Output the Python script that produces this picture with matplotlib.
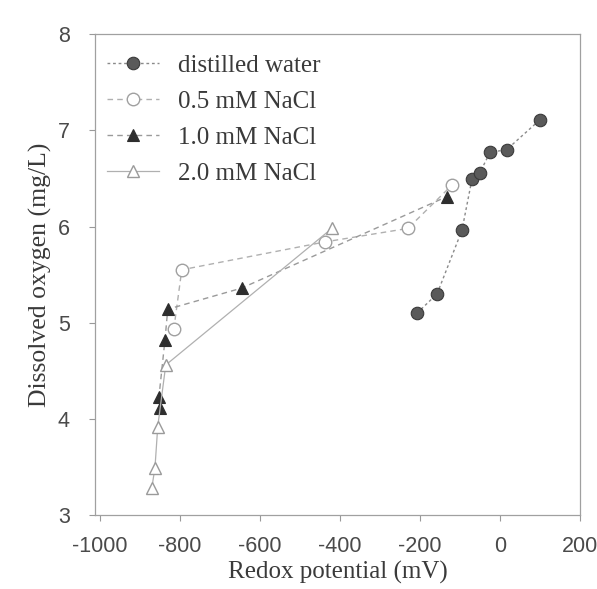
import matplotlib
matplotlib.use("Agg")
import matplotlib.pyplot as plt

# Data
dw_x = [-207, -157, -95, -70, -50, -25, 17, 100]
dw_y = [5.10, 5.30, 5.96, 6.49, 6.56, 6.77, 6.80, 7.11]

n05_x = [-815, -795, -437, -230, -120]
n05_y = [4.93, 5.55, 5.84, 5.98, 6.43]

n10_x = [-850, -852, -837, -830, -645, -133]
n10_y = [4.11, 4.23, 4.82, 5.14, 5.36, 6.31]

n20_x = [-870, -862, -855, -835, -420]
n20_y = [3.28, 3.49, 3.92, 4.56, 5.98]

labels = ["distilled water", "0.5 mM NaCl", "1.0 mM NaCl", "2.0 mM NaCl"]
xticks = [-1000, -800, -600, -400, -200, 0, 200]
yticks = [3, 4, 5, 6, 7, 8]

serif = ["Liberation Serif", "DejaVu Serif"]
sans = ["Liberation Sans", "DejaVu Sans"]
txt = "#3a3a3a"

fig = plt.figure(figsize=(5.97, 5.89), dpi=100)
ax = fig.add_axes([0.159, 0.1256, 0.8125, 0.8164])

ax.plot(dw_x, dw_y, linestyle=(0, (2, 2)), color="#8a8a8a", lw=1.0,
        marker="o", ms=9, mfc="#5a5a5a", mec="#3a3a3a", mew=0.8, label=labels[0])
ax.plot(n05_x, n05_y, linestyle=(0, (4, 3)), color="#b0b0b0", lw=1.0,
        marker="o", ms=9, mfc="white", mec="#a0a0a0", mew=1.0, label=labels[1])
ax.plot(n10_x, n10_y, linestyle=(0, (4, 3)), color="#9a9a9a", lw=1.0,
        marker="^", ms=8, mfc="#2e2e2e", mec="#2e2e2e", mew=0.8, label=labels[2])
ax.plot(n20_x, n20_y, linestyle="-", color="#b0b0b0", lw=0.9,
        marker="^", ms=9, mfc="white", mec="#9a9a9a", mew=1.0, label=labels[3])

ax.set_xlim(-1012, 200)
ax.set_ylim(3, 8)
ax.set_xticks(xticks)
ax.set_yticks(yticks)
ax.set_xticklabels([str(v) for v in xticks], family=sans, fontsize=15.5, color="#4a4a4a")
ax.set_yticklabels([str(v) for v in yticks], family=sans, fontsize=15.5, color="#4a4a4a")
ax.tick_params(axis="x", direction="out", length=4, width=0.8, color="#999999", pad=11)
ax.tick_params(axis="y", direction="out", length=4, width=0.8, color="#999999", pad=14)

for s in ax.spines.values():
    s.set_color("#a0a0a0")
    s.set_linewidth(0.9)

ax.set_xlabel("Redox potential (mV)", family=serif, fontsize=18, color=txt, labelpad=3)
ax.set_ylabel("Dissolved oxygen (mg/L)", family=serif, fontsize=18.5, color=txt, labelpad=4)

leg = ax.legend(loc="upper left", bbox_to_anchor=(-0.012, 0.995), frameon=False,
                prop={"family": serif, "size": 18}, handlelength=2.1,
                labelspacing=0.54, handletextpad=0.75, borderaxespad=0.3)
for t in leg.get_texts():
    t.set_color(txt)

fig.savefig("out.png", dpi=100)
